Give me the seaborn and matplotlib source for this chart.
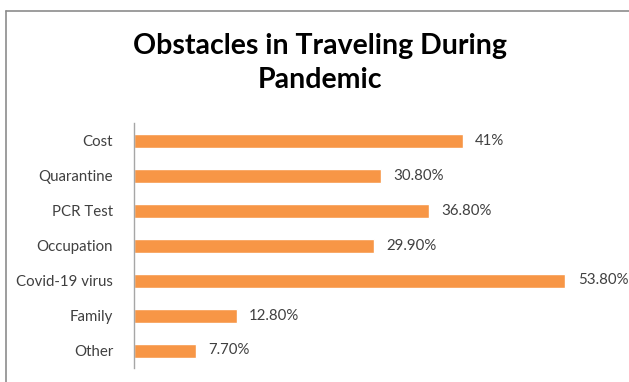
import matplotlib
matplotlib.use("Agg")
import matplotlib.pyplot as plt
import seaborn as sns
import pandas as pd
from matplotlib.lines import Line2D

categories = ["Cost", "Quarantine", "PCR Test", "Occupation", "Covid-19 virus", "Family", "Other"]
values = [41, 30.8, 36.8, 29.9, 53.8, 12.8, 7.7]
value_labels = ["41%", "30.80%", "36.80%", "29.90%", "53.80%", "12.80%", "7.70%"]

sns.set_theme(style="white")
plt.rcParams["font.family"] = ["Lato", "DejaVu Sans"]

df = pd.DataFrame({"category": categories, "value": values})

fig = plt.figure(figsize=(6.29, 3.82), dpi=100)
ax = fig.add_axes([134/629, 1 - 368/382, 481/629, 245/382])
sns.barplot(data=df, x="value", y="category", orient="h", color="#F79646",
            width=0.4, saturation=1, ax=ax)
ax.set_xlim(0, 60)
ax.set_xlabel("")
ax.set_ylabel("")
ax.set_xticks([])
for s in ["top", "right", "bottom"]:
    ax.spines[s].set_visible(False)
ax.spines["left"].set_color("#A6A6A6")
ax.spines["left"].set_linewidth(1)
ax.tick_params(axis="y", length=0, pad=15, labelsize=10.8, labelcolor="#404040")

for cont in ax.containers:
    ax.bar_label(cont, labels=value_labels, padding=9, fontsize=10.8, color="#404040")

fig.text(320/629, 1 - 63/382, "Obstacles in Traveling During\nPandemic", ha="center", va="center",
         fontsize=20.5, fontweight="bold", color="black", linespacing=1.4)

fig.add_artist(Line2D([6/629, 6/629], [0, 1 - 11/382], transform=fig.transFigure, color="#8C8C8C", lw=1.2))
fig.add_artist(Line2D([6/629, 1], [1 - 11/382, 1 - 11/382], transform=fig.transFigure, color="#8C8C8C", lw=1.2))

fig.savefig("out.png", dpi=100)
